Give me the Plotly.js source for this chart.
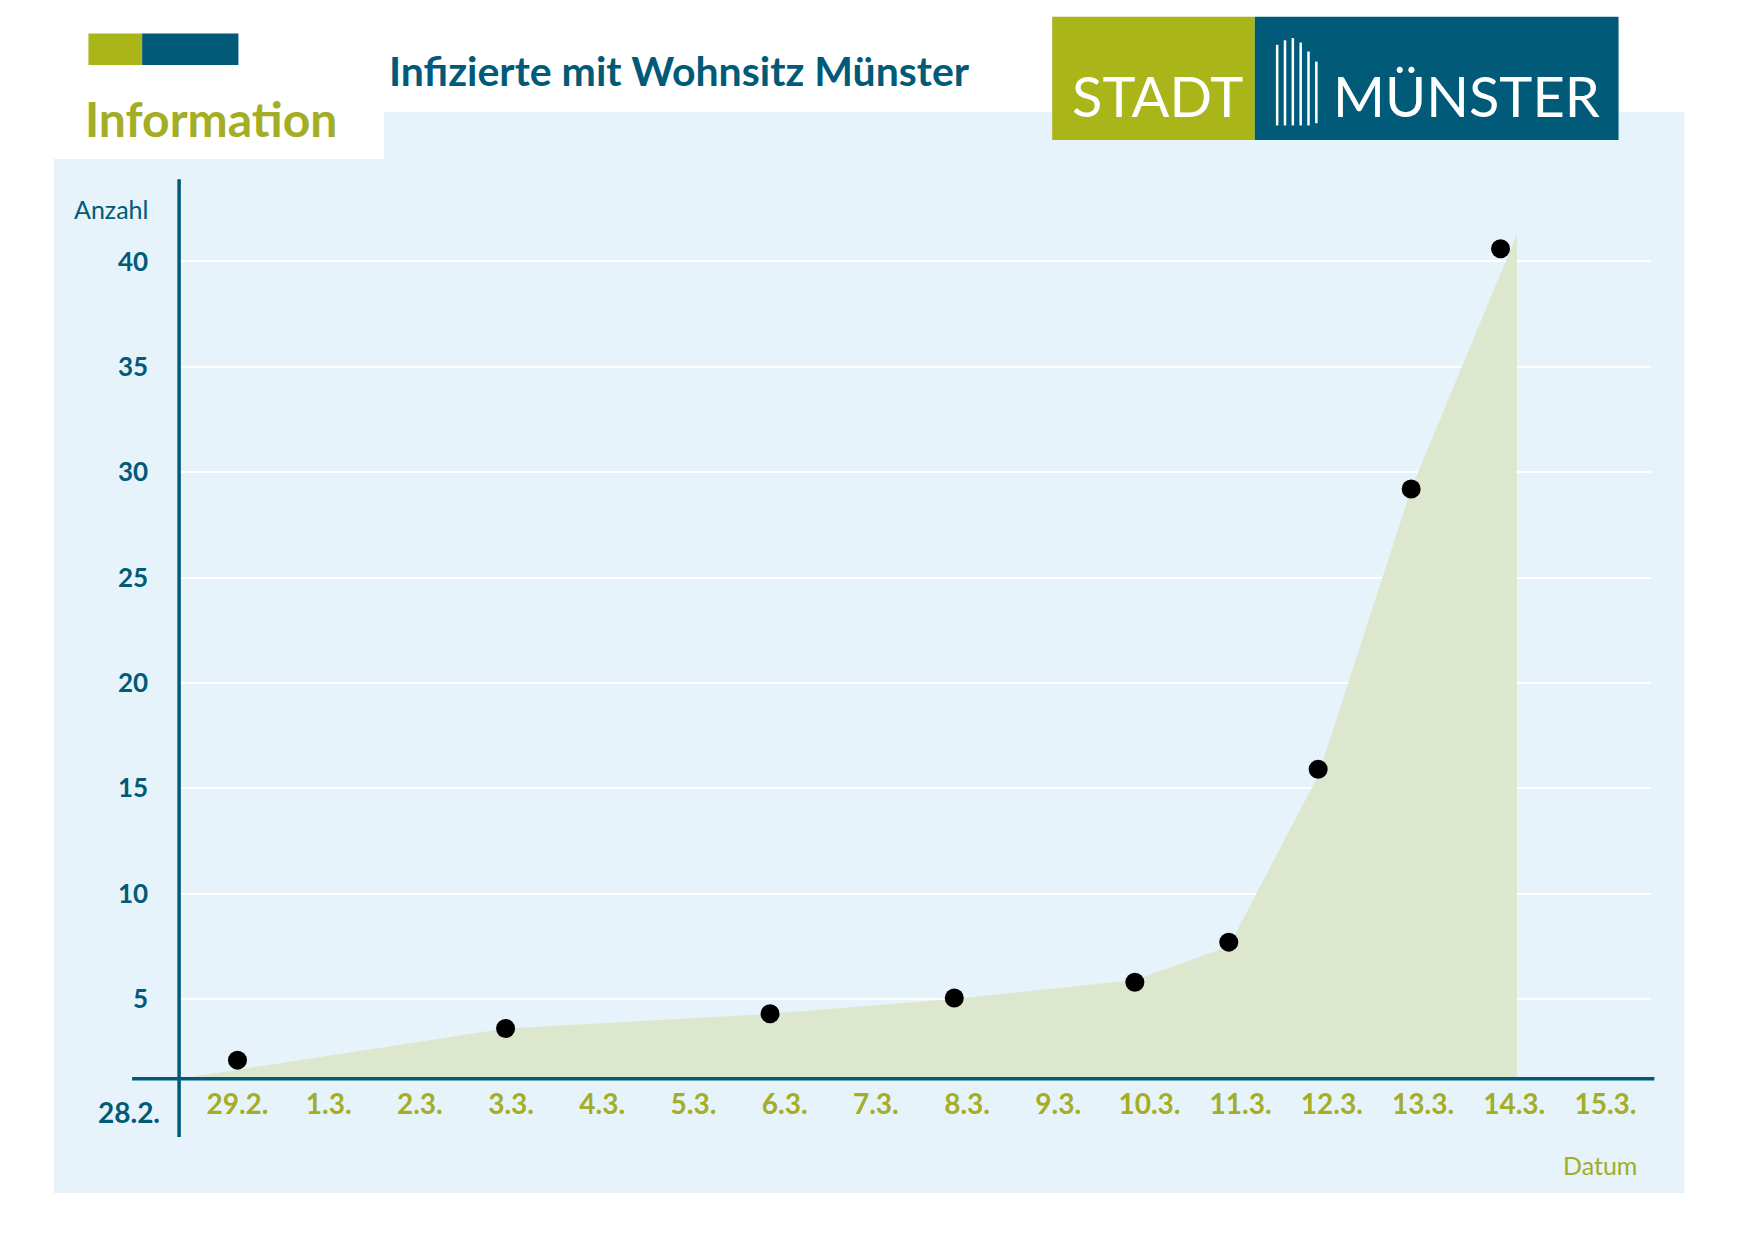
<!DOCTYPE html>
<html>
<head>
<meta charset="utf-8">
<script src="https://cdn.plot.ly/plotly-3.0.1.min.js"></script>
<style>body{margin:0;background:#fff}#chart{width:1754px;height:1240px}</style>
</head>
<body>
<div id="chart"></div>
<script>
// days counted from 28.2. (index 0)
let dateLabels = ["28.2.", "29.2.", "1.3.", "2.3.", "3.3.", "4.3.", "5.3.", "6.3.", "7.3.", "8.3.", "9.3.", "10.3.", "11.3.", "12.3.", "13.3.", "14.3.", "15.3."]
let pointX = [1, 3.94, 6.84, 8.86, 10.84, 11.87, 12.85, 13.87, 14.85]
let pointY = [2.1, 3.6, 4.3, 5.05, 5.8, 7.7, 15.9, 29.2, 40.6]
let areaX = [0.36, 3.94, 6.84, 8.86, 10.84, 11.87, 12.85, 13.87, 15.03]
let areaY = [1.22, 3.6, 4.3, 5.0, 5.9, 7.5, 15.6, 29.2, 41.3]
let yTicks = [5, 10, 15, 20, 25, 30, 35, 40]

const NAVY = "#005a78", OLIVE = "#a3ad25"
// reference measured on a scaled grid
let px = x => x / 1567
let py = y => 1 - y / 1107

function rect(x0, y0, x1, y1, color) {
    return {type: "rect", xref: "paper", yref: "paper", x0: px(x0), x1: px(x1), y0: py(y1), y1: py(y0),
        fillcolor: color, line: {width: 0}, layer: "below"}
}

let shapes = [
    rect(48, 142, 1505, 1065, "#e6f3fa"),
    rect(343, 100, 1505, 142, "#e6f3fa"),
    rect(79, 30, 127, 58, "#a9b519"),
    rect(127, 30, 213, 58, NAVY),
    rect(940, 15, 1121, 125, "#a9b519"),
    rect(1121, 15, 1446, 125, NAVY),
    // axes lines
    {type: "line", xref: "paper", yref: "paper", x0: px(160), x1: px(160), y0: py(1015), y1: py(160), line: {color: NAVY, width: 3.5}},
    {type: "line", xref: "paper", yref: "paper", x0: px(118), x1: px(1478), y0: py(963), y1: py(963), line: {color: NAVY, width: 3.5}}
]
// building icon of the logo
let bars = [[1141, 40, 112], [1148, 36, 112], [1155, 34, 112], [1162, 38, 112], [1169, 46, 112], [1176, 55, 110]]
for (let b of bars) {
    shapes.push({type: "line", xref: "paper", yref: "paper", x0: px(b[0]), x1: px(b[0]), y0: py(b[2]), y1: py(b[1]),
        line: {color: "#ffffff", width: 2.5}})
}

function txt(x, y, text, size, color, anchor, bold) {
    return {xref: "paper", yref: "paper", x: px(x), y: py(y), text: bold ? "<b>" + text + "</b>" : text, showarrow: false,
        xanchor: anchor, yanchor: "middle", font: {family: "Lato, 'Open Sans', sans-serif", size: size, color: color}}
}

let annotations = [
    txt(346, 63, "Infizierte mit Wohnsitz Münster", 41, NAVY, "left", true),
    txt(74, 106, "Information", 48, OLIVE, "left", true),
    txt(1034, 85, "STADT", 56, "#ffffff", "center", false),
    txt(1310, 85, "MÜNSTER", 56, "#ffffff", "center", false),
    txt(134, 187, "Anzahl", 25, NAVY, "right", false),
    txt(1464, 1040, "Datum", 25, OLIVE, "right", false),
    txt(115, 993, "28.2.", 28, NAVY, "center", true)
]

let traces = [
    {x: areaX, y: areaY, type: "scatter", mode: "lines", fill: "tozeroy", fillcolor: "#dce7cd",
        line: {width: 0}, hoverinfo: "skip"},
    {x: pointX, y: pointY, type: "scatter", mode: "markers", cliponaxis: false,
        marker: {color: "#000000", size: 19}}
]

let layout = {
    width: 1754, height: 1240,
    margin: {l: 0, r: 0, t: 0, b: 0},
    paper_bgcolor: "#ffffff", plot_bgcolor: "rgba(0,0,0,0)",
    showlegend: false,
    font: {family: "Lato, 'Open Sans', sans-serif"},
    xaxis: {
        domain: [px(160), px(1475)], range: [0.36, 16.5], anchor: "y",
        tickvals: dateLabels.map((d, i) => i).slice(1),
        ticktext: dateLabels.slice(1).map(d => "<b>" + d + "</b>"),
        tickfont: {size: 28, color: OLIVE}, ticks: "", showgrid: false, zeroline: false, showline: false,
        ticklabelstandoff: 6
    },
    yaxis: {
        domain: [py(963), py(160)], range: [1.22, 43.9],
        tickvals: yTicks, tickfont: {size: 26, color: NAVY, weight: "bold"},
        ticks: "", ticklabelstandoff: 30, showgrid: true, gridcolor: "#ffffff", gridwidth: 2,
        zeroline: false, showline: false
    },
    shapes: shapes,
    annotations: annotations
}

Plotly.newPlot("chart", traces, layout, {displayModeBar: false})
</script>
</body>
</html>
